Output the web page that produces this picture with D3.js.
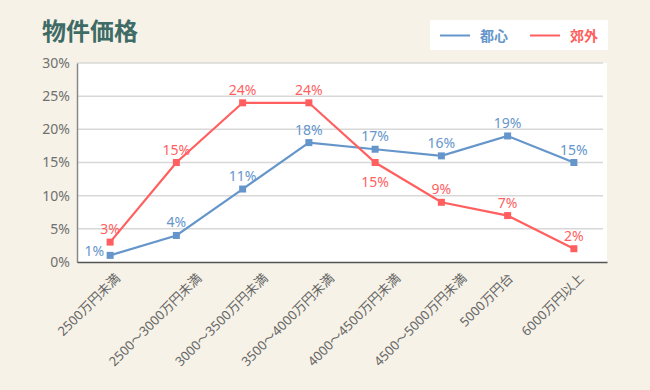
<!DOCTYPE html>
<html>
<head>
<meta charset="utf-8">
<script src="https://cdn.jsdelivr.net/npm/d3@7"></script>
<style>
  body { margin: 0; background: #f6f2e7; }
  svg { display: block; }
  svg text { font-family: "Noto Sans", "Noto Sans CJK JP", sans-serif; }
</style>
</head>
<body>
<svg id="chart"></svg>
<script>
const categories = ["2500万円未満", "2500～3000万円未満", "3000～3500万円未満", "3500～4000万円未満",
    "4000～4500万円未満", "4500～5000万円未満", "5000万円台", "6000万円以上"];
const toshin = [1, 4, 11, 18, 17, 16, 19, 15];
const kougai = [3, 15, 24, 24, 15, 9, 7, 2];
const yTicks = [0, 5, 10, 15, 20, 25, 30];

const width = 650;
const height = 390;
const margin = {top: 63, right: 43, bottom: 128, left: 77};

const svg = d3.select("#chart")
    .attr("width", width)
    .attr("height", height);

svg.append("rect")
    .attr("width", width)
    .attr("height", height)
    .attr("fill", "#f6f2e7");

const x = d3.scalePoint()
    .domain(categories)
    .range([margin.left, width - margin.right])
    .padding(0.5);

const y = d3.scaleLinear()
    .domain([0, 30])
    .range([height - margin.bottom, margin.top]);

// plot area
svg.append("rect")
    .attr("x", margin.left)
    .attr("y", margin.top)
    .attr("width", width - margin.right - margin.left)
    .attr("height", height - margin.bottom - margin.top)
    .attr("fill", "#fff");

// grid
svg.append("g")
    .selectAll("line")
    .data(yTicks.filter(d => d > 0))
    .enter()
    .append("line")
    .attr("x1", margin.left)
    .attr("x2", width - margin.right - 4)
    .attr("y1", d => y(d))
    .attr("y2", d => y(d))
    .attr("stroke", "#d8d8d8")
    .attr("stroke-width", 1.5);

// y axis
const yAxis = svg.append("g")
    .attr("transform", `translate(${margin.left},0)`)
    .call(d3.axisLeft(y).tickValues(yTicks).tickFormat(d => d + "%").tickSize(0).tickPadding(7))
    .attr("font-family", null);
yAxis.select(".domain").attr("stroke", "#888").attr("stroke-width", 1.5);
yAxis.selectAll("text").attr("font-size", 14).attr("fill", "#707070");

// x axis - rotated labels, centred a little left of the tick
const xAxis = svg.append("g")
    .attr("transform", `translate(0,${height - margin.bottom})`)
    .call(d3.axisBottom(x).tickSize(0).tickSizeOuter(0))
    .attr("font-family", null);
xAxis.select(".domain").attr("stroke", "#555").attr("stroke-width", 1.5);
xAxis.selectAll("text")
    .attr("font-size", 13)
    .attr("fill", "#666")
    .attr("text-anchor", "end")
    .attr("y", 0)
    .attr("dy", 0)
    .attr("transform", function() {
        const len = this.getComputedTextLength();
        return `translate(${-18.5 + len * 0.354},17) rotate(-45)`;
    });

// series
const series = [
    {name: "都心", values: toshin, color: "#6596cb"},
    {name: "郊外", values: kougai, color: "#ff5f5f"}
];

const line = d3.line()
    .x((d, i) => x(categories[i]))
    .y(d => y(d));

series.forEach(s => {
    const g = svg.append("g");
    g.append("path")
        .attr("d", line(s.values))
        .attr("fill", "none")
        .attr("stroke", s.color)
        .attr("stroke-width", 2.2);
    g.selectAll("rect")
        .data(s.values)
        .enter()
        .append("rect")
        .attr("x", (d, i) => x(categories[i]) - 3.5)
        .attr("y", d => y(d) - 3.5)
        .attr("width", 7)
        .attr("height", 7)
        .attr("fill", s.color);
});

// value labels
function labelPos(s, d, i) {
    const px = x(categories[i]);
    const py = y(d);
    if (s.name === "都心" && i === 0) return [px - 6, py + 1, "end"];
    if (s.name === "郊外" && i === 4) return [px, py + 24, "middle"];
    return [px, py - 8, "middle"];
}

series.forEach(s => {
    svg.append("g")
        .selectAll("text")
        .data(s.values)
        .enter()
        .append("text")
        .attr("x", (d, i) => labelPos(s, d, i)[0])
        .attr("y", (d, i) => labelPos(s, d, i)[1])
        .attr("text-anchor", (d, i) => labelPos(s, d, i)[2])
        .attr("font-size", 14)
        .attr("fill", s.color)
        .text(d => d + "%");
});

// title
svg.append("text")
    .attr("x", 42)
    .attr("y", 40)
    .attr("font-size", 24)
    .attr("font-weight", "bold")
    .attr("fill", "#3f6b67")
    .text("物件価格");

// legend
const legend = svg.append("g");
legend.append("rect")
    .attr("x", 430)
    .attr("y", 20)
    .attr("width", 178)
    .attr("height", 30)
    .attr("fill", "#fff");

series.forEach((s, i) => {
    const lx = 440 + i * 90;
    legend.append("line")
        .attr("x1", lx)
        .attr("x2", lx + 30)
        .attr("y1", 35.5)
        .attr("y2", 35.5)
        .attr("stroke", s.color)
        .attr("stroke-width", 2);
    legend.append("text")
        .attr("x", lx + 40)
        .attr("y", 40.5)
        .attr("font-size", 14)
        .attr("font-weight", "bold")
        .attr("fill", s.color)
        .text(s.name);
});
</script>
</body>
</html>
